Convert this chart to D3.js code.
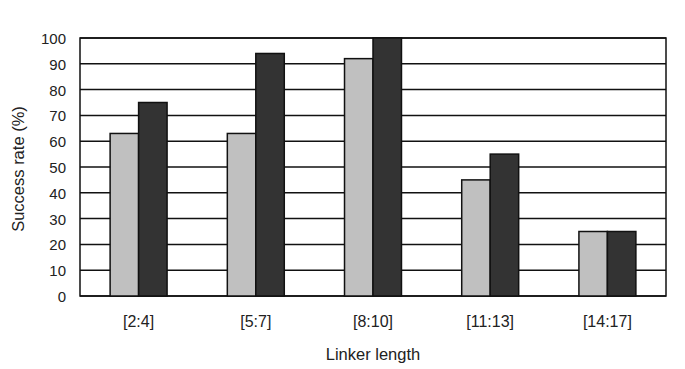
<!DOCTYPE html>
<html>
<head>
<meta charset="utf-8">
<script src="https://cdn.jsdelivr.net/npm/d3@7"></script>
<style>
  body { margin: 0; background: #fff; }
  text { font-family: "Liberation Sans", Arial, sans-serif; fill: #222; }
</style>
</head>
<body>
<div id="chart"></div>
<script>
const categories = ["[2:4]", "[5:7]", "[8:10]", "[11:13]", "[14:17]"]
const seriesLight = [63, 63, 92, 45, 25]
const seriesDark = [75, 94, 100, 55, 25]
const yTicks = [0, 10, 20, 30, 40, 50, 60, 70, 80, 90, 100]

const width = 685
const height = 369
const margins = ({ top: 38, right: 19, bottom: 73, left: 80 })

const svg = d3.select("#chart")
    .append("svg")
    .attr("width", width)
    .attr("height", height)

const x = d3.scaleBand()
    .domain(categories)
    .range([margins.left, width - margins.right])
    .paddingInner(0.514)
    .paddingOuter(0.257)

const sub = d3.scaleBand()
    .domain(["light", "dark"])
    .range([0, x.bandwidth()])

const y = d3.scaleLinear()
    .domain([0, 100])
    .range([height - margins.bottom, margins.top])

// grid lines
svg.append("g")
    .selectAll("line")
    .data(yTicks)
    .join("line")
    .attr("x1", margins.left)
    .attr("x2", width - margins.right)
    .attr("y1", d => y(d))
    .attr("y2", d => y(d))
    .attr("stroke", "#111")
    .attr("stroke-width", 1.5)

// frame
svg.append("rect")
    .attr("x", margins.left)
    .attr("y", margins.top)
    .attr("width", width - margins.right - margins.left)
    .attr("height", height - margins.bottom - margins.top)
    .attr("fill", "none")
    .attr("stroke", "#111")
    .attr("stroke-width", 1.5)

const rows = categories.map((c, i) => ({ cat: c, light: seriesLight[i], dark: seriesDark[i] }))
const colors = { light: "#c0c0c0", dark: "#333333" }

svg.append("g")
    .selectAll("g")
    .data(rows)
    .join("g")
    .attr("transform", d => `translate(${x(d.cat)},0)`)
    .selectAll("rect")
    .data(d => ["light", "dark"].map(k => ({ key: k, value: d[k] })))
    .join("rect")
    .attr("x", d => sub(d.key))
    .attr("width", sub.bandwidth())
    .attr("y", d => y(d.value))
    .attr("height", d => y(0) - y(d.value))
    .attr("fill", d => colors[d.key])
    .attr("stroke", "#111")
    .attr("stroke-width", 1.5)

// y tick labels
svg.append("g")
    .selectAll("text")
    .data(yTicks)
    .join("text")
    .attr("x", 66)
    .attr("y", d => y(d) + 6)
    .style("text-anchor", "end")
    .style("font-size", "15px")
    .text(d => d)

// x tick labels
svg.append("g")
    .selectAll("text")
    .data(categories)
    .join("text")
    .attr("x", d => x(d) + x.bandwidth() / 2)
    .attr("y", 327)
    .style("text-anchor", "middle")
    .style("font-size", "16px")
    .text(d => d)

svg.append("text")
    .text("Linker length")
    .style("text-anchor", "middle")
    .style("font-size", "16.5px")
    .attr("x", (margins.left + width - margins.right) / 2)
    .attr("y", 360)

svg.append("text")
    .text("Success rate (%)")
    .attr("transform", "rotate(-90)")
    .attr("x", -169)
    .attr("y", 24)
    .style("text-anchor", "middle")
    .style("font-size", "16.5px")
</script>
</body>
</html>
